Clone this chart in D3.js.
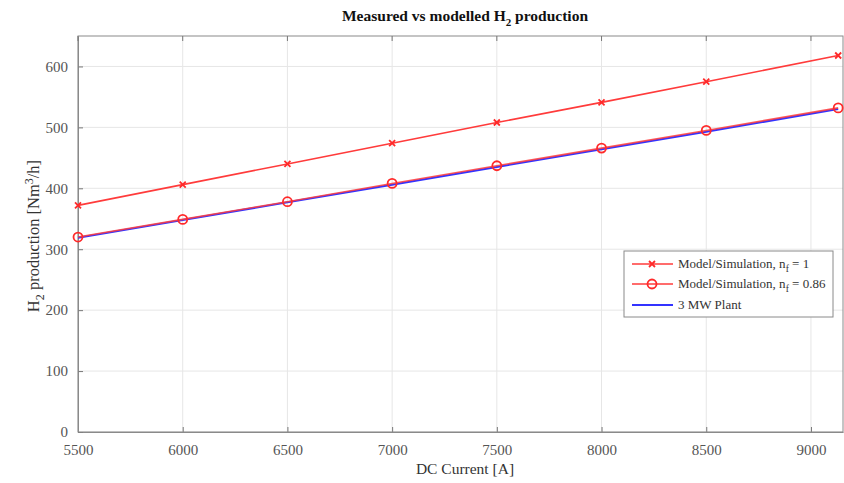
<!DOCTYPE html>
<html><head><meta charset="utf-8">
<script src="https://cdn.jsdelivr.net/npm/d3@7"></script>
<style>body{margin:0;background:#fff}svg{display:block}text{font-family:"Liberation Serif","Times New Roman",serif}</style>
</head><body>
<script>
const xTicks = [5500, 6000, 6500, 7000, 7500, 8000, 8500, 9000];
const yTicks = [0, 100, 200, 300, 400, 500, 600];
const currentX = [5500, 6000, 6500, 7000, 7500, 8000, 8500, 9130];
const modelEta1 = [372, 406, 440, 474, 508, 541, 575, 618];
const modelEta086 = [320, 349, 378, 408, 437, 466, 495, 532];
const plant3MW = [319, 348, 377, 406, 435, 464, 493, 530];
const legendLabels = ["Model/Simulation, n", "Model/Simulation, n", "3 MW Plant"];
const legendSuffix = [" = 1", " = 0.86", ""];

const W = 844, H = 483;
const m = {l: 78, r: 1, t: 36, b: 51};
const svg = d3.select("body").append("svg").attr("width", W).attr("height", H);
const x = d3.scaleLinear().domain([5500, 9153]).range([m.l, W - m.r]);
const y = d3.scaleLinear().domain([0, 650]).range([H - m.b, m.t]);
const g = svg.append("g");

// grid
g.selectAll(".vg").data(xTicks).join("line").attr("x1", d => x(d)).attr("x2", d => x(d))
  .attr("y1", m.t).attr("y2", H - m.b).attr("stroke", "#e6e6e6").attr("stroke-width", 1);
g.selectAll(".hg").data(yTicks).join("line").attr("y1", d => y(d)).attr("y2", d => y(d))
  .attr("x1", m.l).attr("x2", W - m.r).attr("stroke", "#e6e6e6").attr("stroke-width", 1);

// axes
const fmt = d3.format("d");
const xAxis = d3.axisBottom(x).tickValues(xTicks).tickFormat(fmt).tickSizeInner(-5).tickSizeOuter(0).tickPadding(12);
const yAxis = d3.axisLeft(y).tickValues(yTicks).tickFormat(fmt).tickSizeInner(-5).tickSizeOuter(0).tickPadding(10);
const gx = svg.append("g").attr("transform", `translate(0,${H - m.b})`).call(xAxis);
const gy = svg.append("g").attr("transform", `translate(${m.l},0)`).call(yAxis);
[gx, gy].forEach(a => {
  a.selectAll("path").attr("stroke", "#8a8a8a");
  a.selectAll("line").attr("stroke", "#777");
  a.selectAll("text").attr("fill", "#555").style("font-size", "15px").style("font-family", "Liberation Serif");
});
gx.selectAll("text").attr("dy", "0.75em");
// frame top/right
svg.append("rect").attr("x", m.l).attr("y", m.t).attr("width", W - m.r - m.l).attr("height", H - m.b - m.t)
  .attr("fill", "none").attr("stroke", "#8a8a8a").attr("stroke-width", 1);
// top ticks
svg.selectAll(".tt").data(xTicks).join("line").attr("x1", d => x(d)).attr("x2", d => x(d))
  .attr("y1", m.t).attr("y2", m.t + 5).attr("stroke", "#777");

// lines
const line = d3.line().x((d, i) => x(currentX[i])).y(d => y(d));
svg.append("path").datum(plant3MW).attr("d", line).attr("fill", "none").attr("stroke", "#3333ff").attr("stroke-width", 2);
svg.append("path").datum(modelEta086).attr("d", line).attr("fill", "none").attr("stroke", "#ff3b3b").attr("stroke-width", 1.6).attr("opacity", 0.85);
svg.append("path").datum(modelEta1).attr("d", line).attr("fill", "none").attr("stroke", "#ff3b3b").attr("stroke-width", 1.6);

// markers
svg.selectAll(".circ").data(modelEta086).join("circle").attr("cx", (d, i) => x(currentX[i])).attr("cy", d => y(d))
  .attr("r", 4.5).attr("fill", "none").attr("stroke", "#ff2a2a").attr("stroke-width", 1.8);
const xs = 3;
svg.selectAll(".xm").data(modelEta1).join("path")
  .attr("d", (d, i) => { const cx = x(currentX[i]), cy = y(d); return `M${cx-xs},${cy-xs}L${cx+xs},${cy+xs}M${cx-xs},${cy+xs}L${cx+xs},${cy-xs}`; })
  .attr("stroke", "#ff2a2a").attr("stroke-width", 1.8);

// title
const t = svg.append("text").attr("x", 465).attr("y", 21).attr("text-anchor", "middle")
  .style("font-size", "15.5px").style("font-weight", "bold").attr("fill", "#111");
t.append("tspan").text("Measured vs modelled H");
t.append("tspan").text("2").attr("dy", 5).style("font-size", "11px");
t.append("tspan").text(" production").attr("dy", -5);

// x label
svg.append("text").attr("x", 465).attr("y", 474).attr("text-anchor", "middle")
  .style("font-size", "15.5px").attr("fill", "#333").text("DC Current [A]");

// y label
const yl = svg.append("text").attr("transform", `translate(39,${236}) rotate(-90)`).attr("text-anchor", "middle")
  .style("font-size", "16.5px").attr("fill", "#333");
yl.append("tspan").text("H");
yl.append("tspan").text("2").attr("dy", 5).style("font-size", "12px");
yl.append("tspan").text(" production [Nm").attr("dy", -5);
yl.append("tspan").text("3").attr("dy", -6).style("font-size", "12px");
yl.append("tspan").text("/h]").attr("dy", 6);

// legend
const lg = svg.append("g");
lg.append("rect").attr("x", 624).attr("y", 251).attr("width", 209).attr("height", 66)
  .attr("fill", "#fff").attr("stroke", "#8a8a8a").attr("stroke-width", 1);
const ly = [264, 284, 305];
const lcol = ["#ff3b3b", "#ff3b3b", "#3333ff"];
legendLabels.forEach((lab, i) => {
  lg.append("line").attr("x1", 632).attr("x2", 673).attr("y1", ly[i]).attr("y2", ly[i])
    .attr("stroke", lcol[i]).attr("stroke-width", i === 2 ? 2 : 1.6);
  if (i === 0) lg.append("path").attr("d", `M${652-xs},${ly[i]-xs}L${652+xs},${ly[i]+xs}M${652-xs},${ly[i]+xs}L${652+xs},${ly[i]-xs}`)
    .attr("stroke", "#ff2a2a").attr("stroke-width", 1.8);
  if (i === 1) lg.append("circle").attr("cx", 652).attr("cy", ly[i]).attr("r", 4.5).attr("fill", "none")
    .attr("stroke", "#ff2a2a").attr("stroke-width", 1.8);
  const tx = lg.append("text").attr("x", 678).attr("y", ly[i] + 4).style("font-size", "13px").attr("fill", "#333");
  tx.append("tspan").text(lab);
  if (i < 2) {
    tx.append("tspan").text("f").attr("dy", 4).style("font-size", "9.5px");
    tx.append("tspan").text(legendSuffix[i]).attr("dy", -4);
  }
});
</script>
</body></html>
